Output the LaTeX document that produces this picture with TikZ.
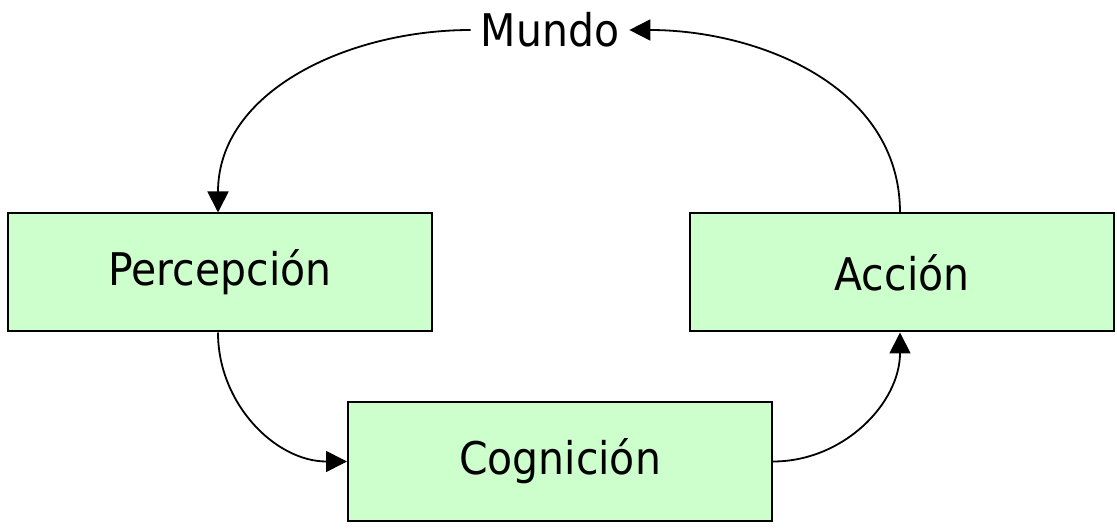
\documentclass[tikz,border=0pt]{standalone}
\usepackage{fontspec}
\setmainfont{DejaVu Sans}[FakeStretch=0.91]
\usetikzlibrary{arrows.meta}

\definecolor{boxgreen}{HTML}{CCFFCC}

\begin{document}
\begin{tikzpicture}[x=1pt,y=1pt,
    etapa/.style={draw, line width=2pt, fill=boxgreen, minimum width=424pt, minimum height=118pt, inner sep=0pt, font=\fontsize{45}{52}\selectfont},
    flecha/.style={line width=1.8pt, -{Triangle[length=21pt,width=21pt]}}]
  \useasboundingbox (0,0) rectangle (1117,528);

  \node (mundo) at (550,498) [inner sep=10pt, font=\fontsize{45}{52}\selectfont] {Mundo};
  \node (percepcion) at (220,255.5) [etapa] {Percepción};
  \node (accion) at (902,255.5) [etapa] {Acción};
  \node (cognicion) at (560,66.5) [etapa] {Cognición};

  \draw [flecha] (mundo.west) to[out=180,in=90] ([xshift=-2pt]percepcion.north);
  \draw [flecha] ([xshift=-2pt]accion.north) to[out=90,in=0] (mundo.east);
  \draw [flecha] ([xshift=-2pt]percepcion.south) to[out=-90,in=180] (cognicion.west);
  \draw [flecha] (cognicion.east) to[out=0,in=-90] ([xshift=-2pt]accion.south);
\end{tikzpicture}
\end{document}
